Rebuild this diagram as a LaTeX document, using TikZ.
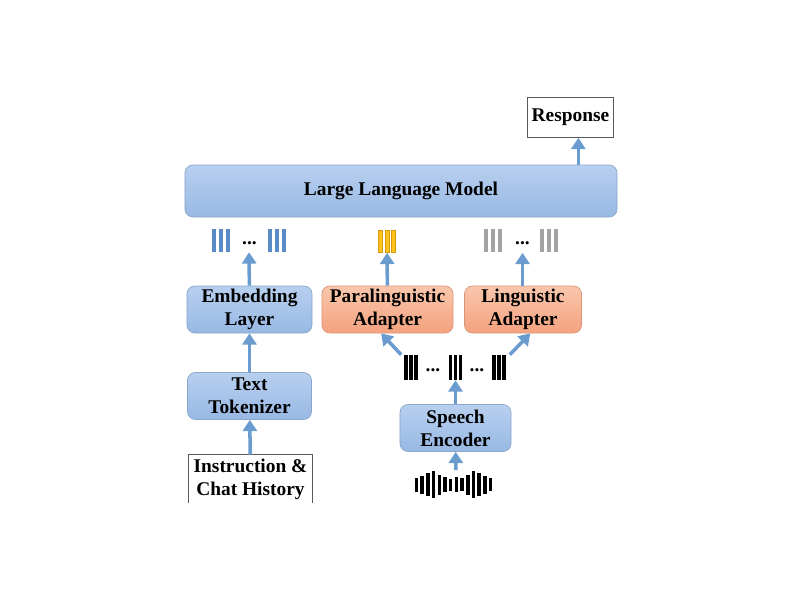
\documentclass[tikz,border=0pt]{standalone}
\usepackage{fontspec}
\setmainfont{Liberation Serif}
\usepackage{tikz}
\usetikzlibrary{arrows.meta}

\definecolor{arrowblue}{HTML}{6A9CD0}
\definecolor{boxbluetop}{HTML}{B8D0EF}
\definecolor{boxbluebot}{HTML}{98B8E4}
\definecolor{boxblueline}{HTML}{8AA6C8}
\definecolor{boxorangetop}{HTML}{F9C7AC}
\definecolor{boxorangebot}{HTML}{F4A27E}
\definecolor{boxorangeline}{HTML}{D9957A}
\definecolor{tokblue}{HTML}{5A8CC8}
\definecolor{tokyellow}{HTML}{FFC31A}
\definecolor{tokyelline}{HTML}{D99A10}
\definecolor{tokgray}{HTML}{A3A3A3}

\begin{document}
\begin{tikzpicture}[x=0.025cm, y=-0.025cm,
  txt/.style={font=\bfseries\fontsize{13.8}{16.4}\selectfont, align=center, inner sep=0pt},
  bluebox/.style={txt, draw=boxblueline, line width=0.5pt, rounded corners=0.2cm,
    top color=boxbluetop, bottom color=boxbluebot, minimum height=1.175cm},
  orangebox/.style={txt, draw=boxorangeline, line width=0.5pt, rounded corners=0.2cm,
    top color=boxorangetop, bottom color=boxorangebot, minimum height=1.175cm},
  tok/.style={inner sep=0pt, minimum height=0.575cm},
  arr/.style={color=arrowblue, line width=2.5pt, -{Triangle[length=8pt,width=10pt]}}]
  \useasboundingbox (0,0) rectangle (800,600);

  \node[bluebox, minimum width=10.8cm, minimum height=1.3cm] (llm) at (401,191) {Large Language Model};
  \node[txt, draw=black!65, line width=0.5pt, minimum width=2.15cm, minimum height=1cm] (resp) at (570.5,117.5) {Response};
  \node[bluebox, minimum width=3.125cm] (emb) at (249.5,309.5) {Embedding\\Layer};
  \node[orangebox, minimum width=3.275cm] (para) at (387.5,309.5) {Paralinguistic\\Adapter};
  \node[orangebox, minimum width=2.925cm] (ling) at (523,309.5) {Linguistic\\Adapter};
  \node[bluebox, minimum width=3.1cm] (tokzr) at (249.5,396) {Text\\Tokenizer};
  \node[bluebox, minimum width=2.775cm] (enc) at (455.5,428) {Speech\\Encoder};
  \node[txt, minimum width=3.1cm, minimum height=1.2cm] (ins) at (250.5,479) {Instruction \&\\Chat History};
  \draw[black!65, line width=0.5pt] (ins.south west) |- (ins.north east) -- (ins.south east);

  % token rows
  \node[tok, minimum width=1.85cm] (embtok) at (249,240.5) {};
  \node[tok, minimum width=0.45cm] (paratok) at (387,241) {};
  \node[tok, minimum width=1.85cm] (lingtok) at (521,241) {};
  \node[tok, minimum width=2.7cm, minimum height=0.625cm] (spktok) at (455.5,367.5) {};
  \node[tok, minimum width=2.05cm, minimum height=0.7cm] (wave) at (456,484.5) {};

  \foreach \x in {214,221,228,269.5,276.5,283.5}
    \fill[tokblue] (\x-2,229) rectangle +(4,23);
  \foreach \x in {380.5,387,393.5}
    \filldraw[fill=tokyellow, draw=tokyelline, line width=0.4pt] (\x-1.8,230) rectangle +(3.6,22);
  \foreach \x in {486,493,500,542,549,556}
    \fill[tokgray] (\x-2,229) rectangle +(4,23);
  \foreach \x in {406,411,416,450.5,455.5,460.5,494,499,504}
    \fill[black] (\x-1.75,355) rectangle +(3.5,25);
  \foreach \h [count=\i from 0] in {7,9,11.5,13.5,10,7.5,6,7.5,6.5,10,13.5,11.5,9,6.5}
    \fill[black] (416.5+5.7*\i-1.75,484.5-\h) rectangle +(3.5,2*\h);

  \node[txt, anchor=base] (embdots) at (249.5,244) {...};
  \node[txt, anchor=base] (lingdots) at (522.5,244) {...};
  \node[txt, anchor=base] (spkdotsa) at (433,371) {...};
  \node[txt, anchor=base] (spkdotsb) at (477,371) {...};

  \path[arr]
  (llm.north -| resp.291) edge (resp.291)
  (emb) edge (embtok)
  (tokzr) edge (emb)
  (ins) edge (tokzr)
  (para) edge (paratok)
  (ling.north -| lingdots) edge (lingdots.south |- lingtok.south)
  (enc) edge (spktok)
  (wave) edge (enc)
  (spktok.north west) edge (para.255)
  (spktok.north east) edge (ling.287);
\end{tikzpicture}
\end{document}
